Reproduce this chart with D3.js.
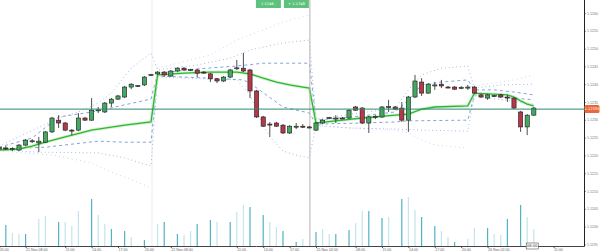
<!DOCTYPE html>
<html>
<head>
<meta charset="utf-8">
<script src="https://cdn.jsdelivr.net/npm/d3@7"></script>
<style>
  body { margin: 0; background: #fff; }
  svg { display: block; font-family: "DejaVu Sans", sans-serif; }
</style>
</head>
<body>
<div id="chart"></div>
<script>
// Bougies (une par heure)
var open = [1.12223,1.12221,1.12218,1.12215,1.12229,1.12240,1.12235,1.12237,1.12266,1.12299,
  1.12291,1.12271,1.12271,1.12305,1.12299,1.12327,1.12322,1.12347,1.12358,1.12364,
  1.12392,1.12395,1.12398,1.12426,1.12429,1.12434,1.12423,1.12437,1.12445,1.12440,
  1.12440,1.12434,1.12429,1.12415,1.12409,1.12420,1.12445,1.12445,1.12440,1.12381,
  1.12308,1.12288,1.12291,1.12285,1.12263,1.12280,1.12282,1.12280,1.12271,1.12291,
  1.12305,1.12302,1.12305,1.12305,1.12336,1.12333,1.12291,1.12308,1.12308,1.12336,
  1.12336,1.12333,1.12299,1.12364,1.12406,1.12375,1.12395,1.12400,1.12392,1.12392,
  1.12389,1.12389,1.12392,1.12370,1.12361,1.12367,1.12370,1.12364,1.12361,1.12322,
  1.12280,1.12313];
var high = [1.12226,1.12226,1.12223,1.12232,1.12246,1.12246,1.12252,1.12268,1.12308,1.12313,
  1.12294,1.12274,1.12319,1.12308,1.12361,1.12336,1.12350,1.12361,1.12370,1.12395,
  1.12403,1.12398,1.12423,1.12429,1.12437,1.12437,1.12440,1.12448,1.12448,1.12443,
  1.12443,1.12437,1.12431,1.12417,1.12423,1.12443,1.12468,1.12488,1.12443,1.12384,
  1.12311,1.12294,1.12294,1.12288,1.12285,1.12291,1.12288,1.12282,1.12294,1.12302,
  1.12308,1.12313,1.12308,1.12330,1.12339,1.12336,1.12311,1.12313,1.12339,1.12356,
  1.12339,1.12350,1.12367,1.12426,1.12417,1.12403,1.12406,1.12412,1.12395,1.12395,
  1.12395,1.12398,1.12395,1.12373,1.12373,1.12370,1.12373,1.12370,1.12364,1.12325,
  1.12316,1.12336];
var low = [1.12215,1.12215,1.12212,1.12212,1.12226,1.12235,1.12209,1.12235,1.12263,1.12277,
  1.12268,1.12257,1.12268,1.12297,1.12297,1.12319,1.12319,1.12336,1.12356,1.12361,
  1.12386,1.12392,1.12395,1.12423,1.12426,1.12420,1.12420,1.12434,1.12437,1.12437,
  1.12420,1.12429,1.12406,1.12403,1.12406,1.12417,1.12440,1.12434,1.12361,1.12305,
  1.12280,1.12252,1.12280,1.12260,1.12260,1.12274,1.12277,1.12276,1.12268,1.12288,
  1.12302,1.12291,1.12302,1.12302,1.12325,1.12288,1.12263,1.12302,1.12305,1.12322,
  1.12327,1.12294,1.12266,1.12361,1.12367,1.12373,1.12384,1.12389,1.12389,1.12384,
  1.12386,1.12384,1.12373,1.12361,1.12356,1.12364,1.12361,1.12350,1.12330,1.12266,
  1.12257,1.12311];
var close = [1.12218,1.12220,1.12219,1.12229,1.12243,1.12241,1.12240,1.12266,1.12305,1.12291,
  1.12271,1.12270,1.12305,1.12299,1.12327,1.12328,1.12347,1.12358,1.12367,1.12392,
  1.12400,1.12396,1.12420,1.12427,1.12434,1.12426,1.12437,1.12445,1.12440,1.12441,
  1.12431,1.12433,1.12415,1.12409,1.12420,1.12440,1.12446,1.12437,1.12381,1.12308,
  1.12282,1.12287,1.12282,1.12263,1.12282,1.12282,1.12280,1.12277,1.12291,1.12299,
  1.12306,1.12305,1.12304,1.12327,1.12327,1.12291,1.12308,1.12309,1.12336,1.12337,
  1.12330,1.12299,1.12364,1.12409,1.12375,1.12400,1.12398,1.12395,1.12391,1.12386,
  1.12391,1.12392,1.12375,1.12364,1.12370,1.12368,1.12364,1.12361,1.12333,1.12280,
  1.12313,1.12333];

// Volumes et teinte (1 = fonce, 0 = clair)
var volume = [0,420,260,240,240,0,540,600,0,480,
  480,400,700,0,940,620,440,340,0,300,
  180,0,120,0,440,480,0,240,220,300,
  440,0,520,480,0,480,680,820,780,0,
  620,480,380,300,0,80,140,0,280,340,
  240,240,0,320,460,700,700,0,560,580,
  0,940,980,720,580,0,400,300,180,80,
  0,140,360,0,360,240,220,540,0,820,
  580,340];
var volDark = [0,1,0,0,1,0,0,0,0,1,
  0,0,0,0,1,0,0,1,0,1,
  0,0,1,0,0,1,0,1,0,0,
  1,0,1,0,0,1,0,0,1,0,
  1,0,0,1,0,1,0,0,1,0,
  0,1,0,1,0,0,1,0,1,0,
  0,1,0,0,1,0,1,0,0,1,
  0,0,0,0,1,0,0,1,0,1,
  0,0];

// VWAP par session et bandes ([indice, prix], null = coupure)
var vwap = [[0,1.12215],[3,1.12218],[5,1.12226],[7,1.12237],[10,1.12252],[14,1.12271],[19,1.12285],[23,1.12294],
  [24,1.12426],[28,1.12431],[32,1.12434],[36,1.12434],[38,1.12429],[40,1.12417],[42,1.12406],[44,1.12398],[46,1.12392],[47,1.12389],
  [48,1.12291],[51,1.12297],[55,1.12305],[60,1.12313],[62,1.12316],[64,1.12330],[66,1.12336],[71,1.12339],
  [72,1.12375],[74,1.12373],[77,1.12370],[78,1.12364],[79,1.12353],[80,1.12344],[81,1.12339]];
var upper1 = [[0,1.12223],[5,1.12249],[9,1.12308],[12,1.12316],[15,1.12325],[19,1.12342],[23,1.12358],
  [24,1.12431],[30,1.12443],[36,1.12451],[40,1.12459],[47,1.12459],
  [48,1.12299],[55,1.12311],[60,1.12322],[62,1.12356],[64,1.12398],[67,1.12406],[71,1.12412],
  [72,1.12384],[75,1.12384],[78,1.12378],[81,1.12370]];
var lower1 = [[0,1.12218],[4,1.12221],[7,1.12223],[15,1.12240],[19,1.12237],[23,1.12237],
  [24,1.12423],[32,1.12417],[37,1.12412],[38,1.12403],[43,1.12336],[47,1.12319],
  [48,1.12288],[55,1.12291],[60,1.12294],[62,1.12297],[71,1.12299],
  [72,1.12370],[78,1.12361],[81,1.12356]];
var upper2 = [[0,1.12226],[9,1.12305],[12,1.12322],[15,1.12347],[17,1.12375],[20,1.12445],[23,1.12488],
  [24,1.12440],[30,1.12454],[35,1.12473],[38,1.12496],[43,1.12516],[47,1.12524],
  [48,1.12302],[60,1.12333],[62,1.12384],[64,1.12426],[67,1.12445],[71,1.12451],
  [72,1.12389],[76,1.12398],[81,1.12400]];
var lower2 = [[0,1.12215],[6,1.12209],[15,1.12207],[19,1.12193],[23,1.12170],
  [24,1.12420],[36,1.12412],[38,1.12370],[40,1.12285],[41,1.12252],[43,1.12212],[45,1.12201],[47,1.12193],
  [48,1.12285],[53,1.12277],[60,1.12274],[64,1.12271],[71,1.12268],
  [72,1.12367],[81,1.12344]];
var upper3 = [[24,1.12445],[32,1.12482],[36,1.12524],[40,1.12552],[43,1.12575],[47,1.12594],
  null,[72,1.12395],[78,1.12412],[81,1.12426]];
var lower3 = [[0,1.12212],[8,1.12201],[14,1.12179],[17,1.12153],[21,1.12125],[23,1.12108],
  null,[48,1.12282],[60,1.12271],[62,1.12263],[64,1.12243],[66,1.12229],[71,1.12221]];

// Axes
var yTicks = [1.1260,1.1255,1.1250,1.1245,1.1240,1.1235,1.1230,1.1225,1.1220,1.1215,1.1210,1.1205,1.1200,1.1195];
var xTickIdx = [0,4,10,14,18,22,26,36,40,44,48,54,58,62,66,70,74,84];
var xTickLabels = ["05:00","21 Nov 08:00","11:00","14:00","17:00","20:00","22 Nov 08:00","11:00","14:00",
  "17:00","25 Nov 02:00","08:00","11:00","14:00","17:00","20:00","26 Nov 02:00","11:00"];
var lastPrice = 1.12330;
var cursorIdx = 47;
var sessionIdx = 23;
var cursorLabels = ["1.1246 -", "+ 1.1248"];
var timeLabel = "08:00";

var w = 600, h = 251;
var plotRight = 584, plotBottom = 246;

var svg = d3.select("#chart").append("svg")
  .attr("width", w).attr("height", h);

var x = d3.scaleLinear().domain([0, 81]).range([-0.8, 533.8]);
var y = d3.scaleLinear().domain([1.1195, 1.1260]).range([244.4, 13]);
var v = d3.scaleLinear().domain([0, 1000]).range([plotBottom, 196]);

// Ligne de session (faible)
svg.append("line")
  .attr("x1", x(sessionIdx) + 1).attr("x2", x(sessionIdx) + 1)
  .attr("y1", 0).attr("y2", plotBottom)
  .style("stroke", "#ededed");

// Volumes
svg.selectAll(".vol")
  .data(volume)
  .enter()
  .append("rect")
  .attr("x", function(d, i) { return x(i) - 0.6; })
  .attr("width", 1.2)
  .attr("y", function(d) { return v(d); })
  .attr("height", function(d) { return plotBottom - v(d); })
  .attr("fill", function(d, i) { return volDark[i] ? "#52b2c6" : "#c4e5ec"; });

// Lignes des bandes
var line = d3.line()
  .defined(function(d) { return d !== null; })
  .x(function(d) { return x(d[0]); })
  .y(function(d) { return y(d[1]); });

function band(data, color, dash, width, op) {
  svg.append("path")
    .attr("d", line(data))
    .attr("fill", "none")
    .attr("stroke", color)
    .attr("stroke-width", width)
    .attr("stroke-dasharray", dash)
    .attr("opacity", op);
}
band(upper3, "#a9b8e4", "0.8,3.5", 0.9, 0.8);
band(lower3, "#a9b8e4", "0.8,3.5", 0.9, 0.8);
band(upper2, "#6a88d2", "0.8,3", 0.9, 0.8);
band(lower2, "#6a88d2", "0.8,3", 0.9, 0.8);
band(upper1, "#4a72cc", "3,3", 0.9, 0.75);
band(lower1, "#4a72cc", "3,3", 0.9, 0.75);

// VWAP
svg.append("path")
  .attr("d", line(vwap))
  .attr("fill", "none")
  .attr("stroke", "#c4ecc4")
  .attr("stroke-width", 3.2)
  .attr("opacity", 0.7);
svg.append("path")
  .attr("d", line(vwap))
  .attr("fill", "none")
  .attr("stroke", "#2fb52f")
  .attr("stroke-width", 1.3);

// Curseur vertical
svg.append("line")
  .attr("x1", x(cursorIdx) + 0.5).attr("x2", x(cursorIdx) + 0.5)
  .attr("y1", 0).attr("y2", plotBottom)
  .style("stroke", "#b4b4b4");

// Bougies
var idx = d3.range(open.length);
var bw = 4.2;

svg.selectAll(".wick")
  .data(idx)
  .enter()
  .append("line")
  .attr("x1", function(i) { return x(i); })
  .attr("x2", function(i) { return x(i); })
  .attr("y1", function(i) { return y(high[i]); })
  .attr("y2", function(i) { return y(low[i]); })
  .style("stroke", "#222")
  .style("stroke-width", 0.8);

svg.selectAll(".body")
  .data(idx)
  .enter()
  .append("rect")
  .attr("x", function(i) { return x(i) - bw / 2; })
  .attr("width", bw)
  .attr("y", function(i) { return y(Math.max(open[i], close[i])); })
  .attr("height", function(i) { return Math.max(1, Math.abs(y(open[i]) - y(close[i]))); })
  .attr("fill", function(i) { return close[i] >= open[i] ? "#45a862" : "#b3394a"; })
  .attr("stroke", "#1d1d1d")
  .attr("stroke-width", 0.6);

// Ligne du dernier prix
svg.append("line")
  .attr("x1", 0).attr("x2", plotRight)
  .attr("y1", y(lastPrice)).attr("y2", y(lastPrice))
  .style("stroke", "#2b8a6f")
  .style("stroke-width", 1);

// Axe des prix
var yAxis = d3.axisRight(y).tickValues(yTicks).tickFormat(d3.format(".4f")).tickSize(2);
var gy = svg.append("g")
  .attr("transform", "translate(" + plotRight + ",0)")
  .call(yAxis);
gy.select(".domain").remove();
gy.selectAll("line").style("stroke", "#999");
gy.selectAll("text").attr("font-size", "3.6px").attr("fill", "#777").attr("x", 3);

// Axe du temps
var xAxis = d3.axisBottom(x).tickValues(xTickIdx)
  .tickFormat(function(d, i) { return xTickLabels[i]; }).tickSize(2);
var gx = svg.append("g")
  .attr("transform", "translate(0," + plotBottom + ")")
  .call(xAxis);
gx.select(".domain").remove();
gx.selectAll("line").style("stroke", "#555");
gx.selectAll("text").attr("font-size", "3.6px").attr("fill", "#666")
  .attr("text-anchor", "start").attr("y", 2.2);

svg.append("line")
  .attr("x1", 0).attr("x2", plotRight + 0.5)
  .attr("y1", plotBottom + 0.5).attr("y2", plotBottom + 0.5)
  .style("stroke", "#444");
svg.append("line")
  .attr("x1", plotRight + 0.5).attr("x2", plotRight + 0.5)
  .attr("y1", 0).attr("y2", plotBottom + 0.5)
  .style("stroke", "#222");

// Etiquette du dernier prix
svg.append("rect")
  .attr("x", plotRight + 0.5).attr("y", y(lastPrice) - 4)
  .attr("width", 15).attr("height", 8).attr("rx", 1.5)
  .attr("fill", "#e8693c");
svg.append("text")
  .attr("x", plotRight + 8).attr("y", y(lastPrice) + 1.3)
  .attr("text-anchor", "middle")
  .attr("font-size", "3.6px").attr("fill", "#fff")
  .text(d3.format(".5f")(lastPrice));

// Etiquettes du curseur en haut
var cx = x(cursorIdx) + 0.5;
var tags = svg.selectAll(".tag").data(cursorLabels).enter().append("g")
  .attr("transform", function(d, i) { return "translate(" + (cx - 54 + i * 28) + ",0)"; });
tags.append("rect")
  .attr("width", 25).attr("height", 8)
  .attr("fill", "#5fc27c");
tags.append("text")
  .attr("x", 12.5).attr("y", 5.3)
  .attr("text-anchor", "middle")
  .attr("font-size", "3.6px").attr("fill", "#fff")
  .text(function(d) { return d; });

// Etiquette de temps
svg.append("rect")
  .attr("x", x(80) - 1).attr("y", plotBottom - 3)
  .attr("width", 12).attr("height", 6)
  .attr("fill", "#fff").attr("stroke", "#333").attr("stroke-width", 0.5);
svg.append("text")
  .attr("x", x(80) + 5).attr("y", plotBottom + 1.3)
  .attr("text-anchor", "middle")
  .attr("font-size", "3.6px").attr("fill", "#333")
  .text(timeLabel);
</script>
</body>
</html>
